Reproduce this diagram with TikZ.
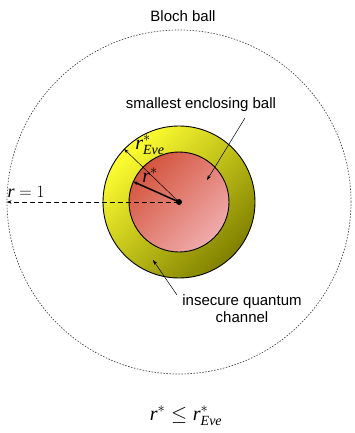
\documentclass[tikz,border=0pt]{standalone}
\usepackage{fontspec}
\usepackage{amsmath}
\setmainfont{Liberation Sans}
\newfontfamily\tms{Liberation Serif}
\usetikzlibrary{arrows.meta,shadings}
\newcommand{\ri}{\text{\tms\itshape r}}
\newcommand{\eve}{\text{\tms\itshape Eve}}
\tikzset{
  lbl/.style={font=\fontsize{15}{17}\selectfont, inner sep=0pt},
  mth/.style={font=\fontsize{20}{22}\selectfont, inner sep=0pt},
  tip/.style={-{Stealth[length=5pt,width=3.5pt]}},
  ball/.style={circle, draw=black, line width=0.9pt, inner sep=0pt},
}
\begin{document}
\begin{tikzpicture}[x=1pt,y=-1pt]
\useasboundingbox (0,0) rectangle (355,433);
\coordinate (c) at (179,202);
\node[circle, draw=black!70, dash pattern=on 1.5pt off 1.5pt, line width=0.7pt, minimum size=344pt, inner sep=0pt] (bloch) at (c) {};
\node[ball, minimum size=152pt, top color={rgb,255:red,255;green,255;blue,50}, bottom color={rgb,255:red,128;green,128;blue,0}, shading angle=45] (eve) at (c) {};
\node[ball, minimum size=100pt, top color={rgb,255:red,212;green,85;blue,62}, bottom color={rgb,255:red,240;green,172;blue,172}, shading angle=45] (seb) at (c) {};
\fill (c) circle[radius=3pt];
\draw[tip, dash pattern=on 5pt off 3pt, line width=0.8pt] (c) -- (bloch.west);
\draw[tip, line width=1.5pt] (c) -- (seb.156.5);
\draw[tip, line width=0.5pt] (c) -- (eve.136);
\node[lbl] (tbloch) at (183,16) {Bloch ball};
\node[lbl] (tseb) at (201,105) {smallest enclosing ball};
\node[lbl, align=center] (tins) at (242,309) {insecure quantum\\channel};
\coordinate (s1) at (245,118);
\coordinate (t1) at (207,180);
\coordinate (s2) at (177,295);
\coordinate (t2) at (153,260);
\draw[tip, line width=0.5pt] (s1) -- (t1);
\draw[tip, line width=0.5pt] (s2) -- (t2);
\node[mth, font=\fontsize{18}{20}\selectfont] (tr1) at (26,192) {$\ri=1$};
\node[mth] (trs) at (150,175) {$\ri^{*}$};
\node[mth] (treve) at (150,145) {$\ri^{*}_{\eve}$};
\node[mth] (tform) at (186,416) {$\ri^{*}\le\ri^{*}_{\eve}$};
\end{tikzpicture}
\end{document}
